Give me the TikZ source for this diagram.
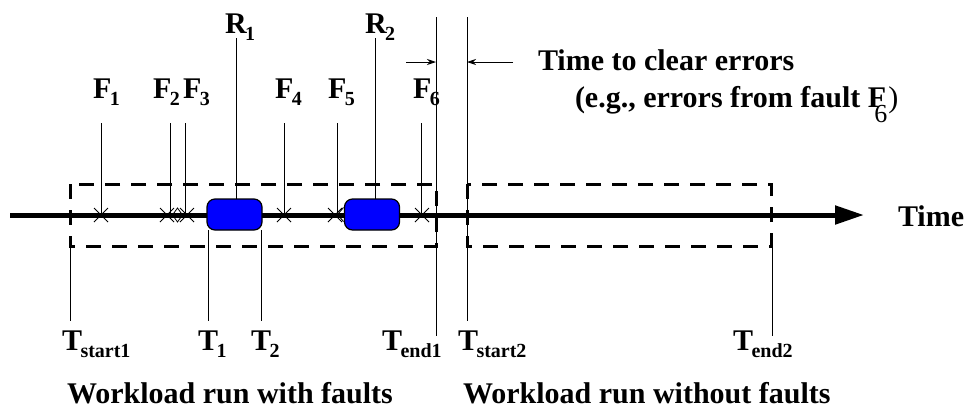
\documentclass[tikz,border=0pt]{standalone}
\usepackage{fontspec}
\setmainfont{Liberation Serif}
\usetikzlibrary{arrows.meta,shapes.misc,shapes.geometric}
\newcommand\lbsub[2]{#1\kern-1.5pt\raisebox{-7pt}{\fontsize{20}{20}\selectfont #2}}
\begin{document}
\begin{tikzpicture}[x=1pt,y=-1pt,
  every node/.style={inner sep=0pt, outer sep=0pt},
  lbl/.style={anchor=base west, font=\fontsize{30}{36}\selectfont\bfseries},
  thinline/.style={line width=0.9pt},
  dashbox/.style={line width=3pt, dash pattern=on 15pt off 11pt},
  blob/.style={draw, line width=1.2pt, fill=blue, rounded corners=8pt, minimum width=55pt, minimum height=31pt},
  xmark/.style={cross out, draw, line width=0.8pt, minimum size=14pt},
  dmark/.style={diamond, draw, line width=0.8pt, minimum width=10pt, minimum height=14pt},
  smallarrow/.style={thinline, -{Stealth[length=9pt,width=6pt]}}]
\useasboundingbox (0,0) rectangle (964,408);

% dashed boxes
\draw[dashbox] (70,184) rectangle (436,246);
\draw[dashbox] (467,184) rectangle (771,246);

% timeline
\coordinate (tl0) at (10,215);
\coordinate (tl1) at (864,215);
\draw[line width=5pt, -{Triangle[length=29pt,width=18pt]}] (tl0) -- (tl1);
\node[lbl] (time) at (898,226) {Time};

% blobs
\node[blob] (r1box) at (234.5,214.5) {};
\node[blob] (r2box) at (372,214.5) {};

% fault marks
\node[xmark] (x1) at (101,215) {};
\node[xmark] (x2) at (167,215) {};
\node[dmark] (d23) at (177.5,215) {};
\node[xmark] (x3) at (187,215) {};
\node[xmark] (x4) at (284,215) {};
\node[xmark] (x5) at (335,215) {};
\node[xmark] (x6) at (422,215) {};
\draw[thinline] (r2box.west) ++(-1,-7) -- ++(-6,7) -- ++(6,7);

% F labels
\node[lbl] (f1) at (93,98) {\lbsub{F}{1}};
\node[lbl] (f2) at (153,98) {\lbsub{F}{2}};
\node[lbl] (f3) at (183,98) {\lbsub{F}{3}};
\node[lbl] (f4) at (275,98) {\lbsub{F}{4}};
\node[lbl] (f5) at (328,98) {\lbsub{F}{5}};
\node[lbl] (f6) at (413,98) {\lbsub{F}{6}};
\coordinate (f1a) at (101,123);
\coordinate (f2a) at (170,123);
\coordinate (f3a) at (185,123);
\coordinate (f4a) at (284,123);
\coordinate (f5a) at (337,123);
\coordinate (f6a) at (421,123);
\draw[thinline] (f1a) -- (f1a |- x1.center);
\draw[thinline] (f2a) -- (f2a |- x2.center);
\draw[thinline] (f3a) -- (f3a |- x3.center);
\draw[thinline] (f4a) -- (f4a |- x4.center);
\draw[thinline] (f5a) -- (f5a |- x5.center);
\draw[thinline] (f6a) -- (f6a |- x6.center);

% R labels
\node[lbl] (r1) at (225,33) {\lbsub{R}{1}};
\node[lbl] (r2) at (365,33) {\lbsub{R}{2}};
\coordinate (r1a) at (236,38);
\coordinate (r2a) at (375,38);
\draw[thinline] (r1a) -- (r1a |- r1box.north);
\draw[thinline] (r2a) -- (r2a |- r2box.north);

% T lines
\coordinate (te1a) at (436,17);
\coordinate (te1b) at (436,336);
\coordinate (ts2a) at (467,17);
\coordinate (ts2b) at (467,321);
\coordinate (ts1a) at (70,246);
\coordinate (ts1b) at (70,321);
\coordinate (t1a) at (208,230);
\coordinate (t1b) at (208,321);
\coordinate (t2a) at (261,230);
\coordinate (t2b) at (261,321);
\coordinate (te2a) at (772,246);
\coordinate (te2b) at (772,336);
\draw[thinline] (te1a) -- (te1b);
\draw[thinline] (ts2a) -- (ts2b);
\draw[thinline] (ts1a) -- (ts1b);
\draw[thinline] (t1a) -- (t1b);
\draw[thinline] (t2a) -- (t2b);
\draw[thinline] (te2a) -- (te2b);

% T labels
\node[lbl] (ts1) at (62,350) {\lbsub{T}{start1}};
\node[lbl] (t1) at (198,350) {\lbsub{T}{1}};
\node[lbl] (t2) at (251,350) {\lbsub{T}{2}};
\node[lbl] (te1) at (382,350) {\lbsub{T}{end1}};
\node[lbl] (ts2) at (458,350) {\lbsub{T}{start2}};
\node[lbl] (te2) at (733,350) {\lbsub{T}{end2}};

% clear-time arrows
\coordinate (ca0) at (406,62);
\coordinate (cb0) at (513,62);
\draw[smallarrow] (ca0) -- (ca0 -| te1a);
\draw[smallarrow] (cb0) -- (cb0 -| ts2a);
\node[lbl] (clear) at (538,70) {Time to clear errors};
\node[lbl] (eg) at (575,107) {(e.g., errors from fault F\kern-12pt\raisebox{-15pt}{\fontsize{26}{30}\selectfont\mdseries 6}\kern1pt{\mdseries )}};

% captions
\node[lbl] (w1) at (67,403) {Workload run with faults};
\node[lbl] (w2) at (463,403) {Workload run without faults};
\end{tikzpicture}
\end{document}
